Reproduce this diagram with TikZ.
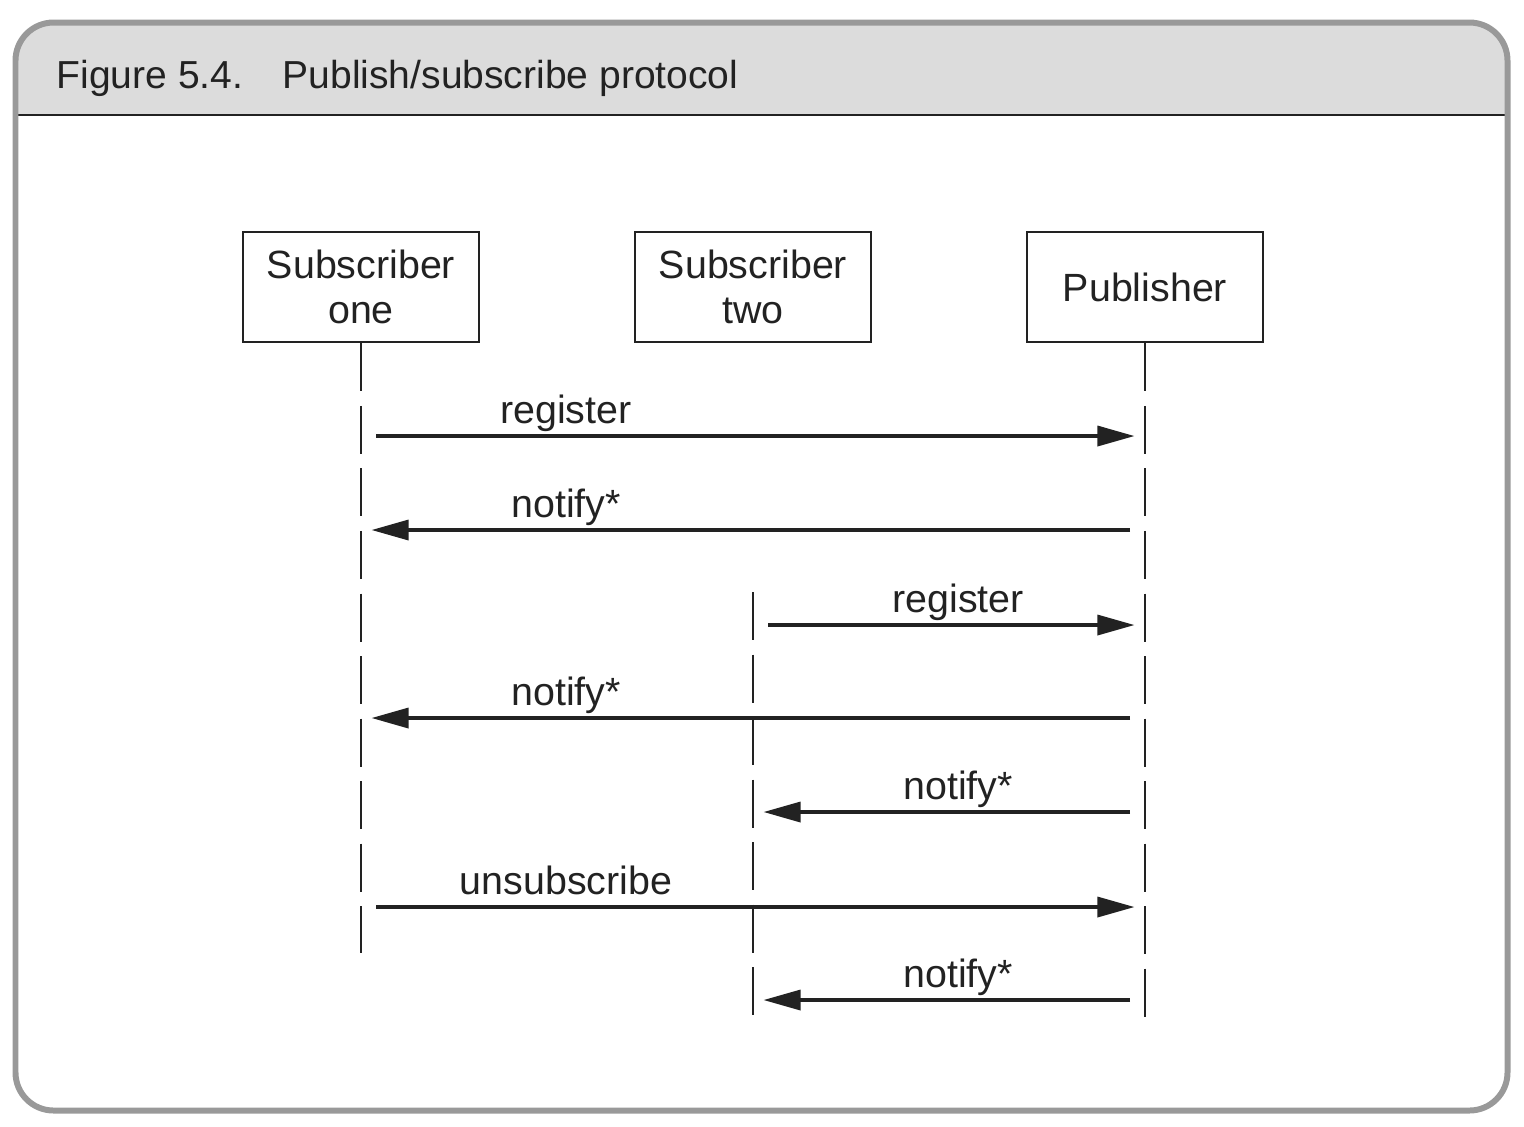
\documentclass[tikz,border=0pt]{standalone}
\usepackage{fontspec}
\setmainfont{Liberation Sans}
\usetikzlibrary{arrows.meta,positioning}
\definecolor{ink}{HTML}{222222}
\definecolor{headgray}{HTML}{DCDCDC}
\definecolor{framegray}{HTML}{999999}

\tikzset{
  actor/.style={draw=ink,line width=0.75pt,minimum width=2.36cm,minimum height=1.10cm,
    align=center,inner sep=0pt,text=ink,font=\fontsize{11.2}{12.8}\selectfont},
  life/.style={draw=ink,line width=0.6pt,dash pattern=on 0.48cm off 0.145cm},
  msg/.style={draw=ink,line width=0.95pt,-{Triangle[length=0.37cm,width=0.2cm]},
    shorten <=0.15cm,shorten >=0.105cm},
  lbl/.style={anchor=base,inner sep=0pt,text=ink,font=\fontsize{11.2}{13}\selectfont},
  title/.style={anchor=base west,inner sep=0pt,text=ink,font=\fontsize{11.1}{13}\selectfont},
}

\begin{document}
\begin{tikzpicture}[x=0.01cm,y=-0.01cm]
\useasboundingbox (0,0) rectangle (1524,1126);
% frame and header
\begin{scope}
\path[clip,rounded corners=0.38cm] (15.5,22.5) rectangle (1507.5,1110.5);
\fill[headgray] (0,0) rectangle (1524,115);
\end{scope}
\draw[ink,line width=0.6pt] (15.5,115) -- (1507.5,115);
\draw[framegray,line width=1.7pt,rounded corners=0.38cm] (15.5,22.5) rectangle (1507.5,1110.5);
\node[title] (fig) at (56,88) {Figure 5.4.};
\node[title] (cap) at (282,88) {Publish/subscribe protocol};

% participants
\node[actor] (one) at (361,287) {Subscriber\\one};
\node[actor] (two) at (753,287) {Subscriber\\two};
\node[actor] (pub) at (1145,287) {Publisher};

% lifelines
\coordinate (one-end) at (361,953);
\coordinate (two-start) at (753,592);
\coordinate (two-end) at (753,1017);
\coordinate (pub-end) at (1145,1017);
\draw[life] (one.south) -- (one-end);
\draw[life] (two-start) -- (two-end);
\draw[life] (pub.south) -- (pub-end);

% messages
\coordinate (m1-one) at (361,436);
\coordinate (m1-pub) at (1145,436);
\draw[msg] (m1-one) -- (m1-pub);
\node[lbl] (m1-lbl) at (566,423) {register};

\coordinate (m2-pub) at (1145,530);
\coordinate (m2-one) at (361,530);
\draw[msg] (m2-pub) -- (m2-one);
\node[lbl] (m2-lbl) at (566,517) {notify*};

\coordinate (m3-two) at (753,625);
\coordinate (m3-pub) at (1145,625);
\draw[msg] (m3-two) -- (m3-pub);
\node[lbl] (m3-lbl) at (958,612) {register};

\coordinate (m4-pub) at (1145,718);
\coordinate (m4-one) at (361,718);
\draw[msg] (m4-pub) -- (m4-one);
\node[lbl] (m4-lbl) at (566,705) {notify*};

\coordinate (m5-pub) at (1145,812);
\coordinate (m5-two) at (753,812);
\draw[msg] (m5-pub) -- (m5-two);
\node[lbl] (m5-lbl) at (958,799) {notify*};

\coordinate (m6-one) at (361,907);
\coordinate (m6-pub) at (1145,907);
\draw[msg] (m6-one) -- (m6-pub);
\node[lbl] (m6-lbl) at (566,894) {unsubscribe};

\coordinate (m7-pub) at (1145,1000);
\coordinate (m7-two) at (753,1000);
\draw[msg] (m7-pub) -- (m7-two);
\node[lbl] (m7-lbl) at (958,987) {notify*};
\end{tikzpicture}
\end{document}
